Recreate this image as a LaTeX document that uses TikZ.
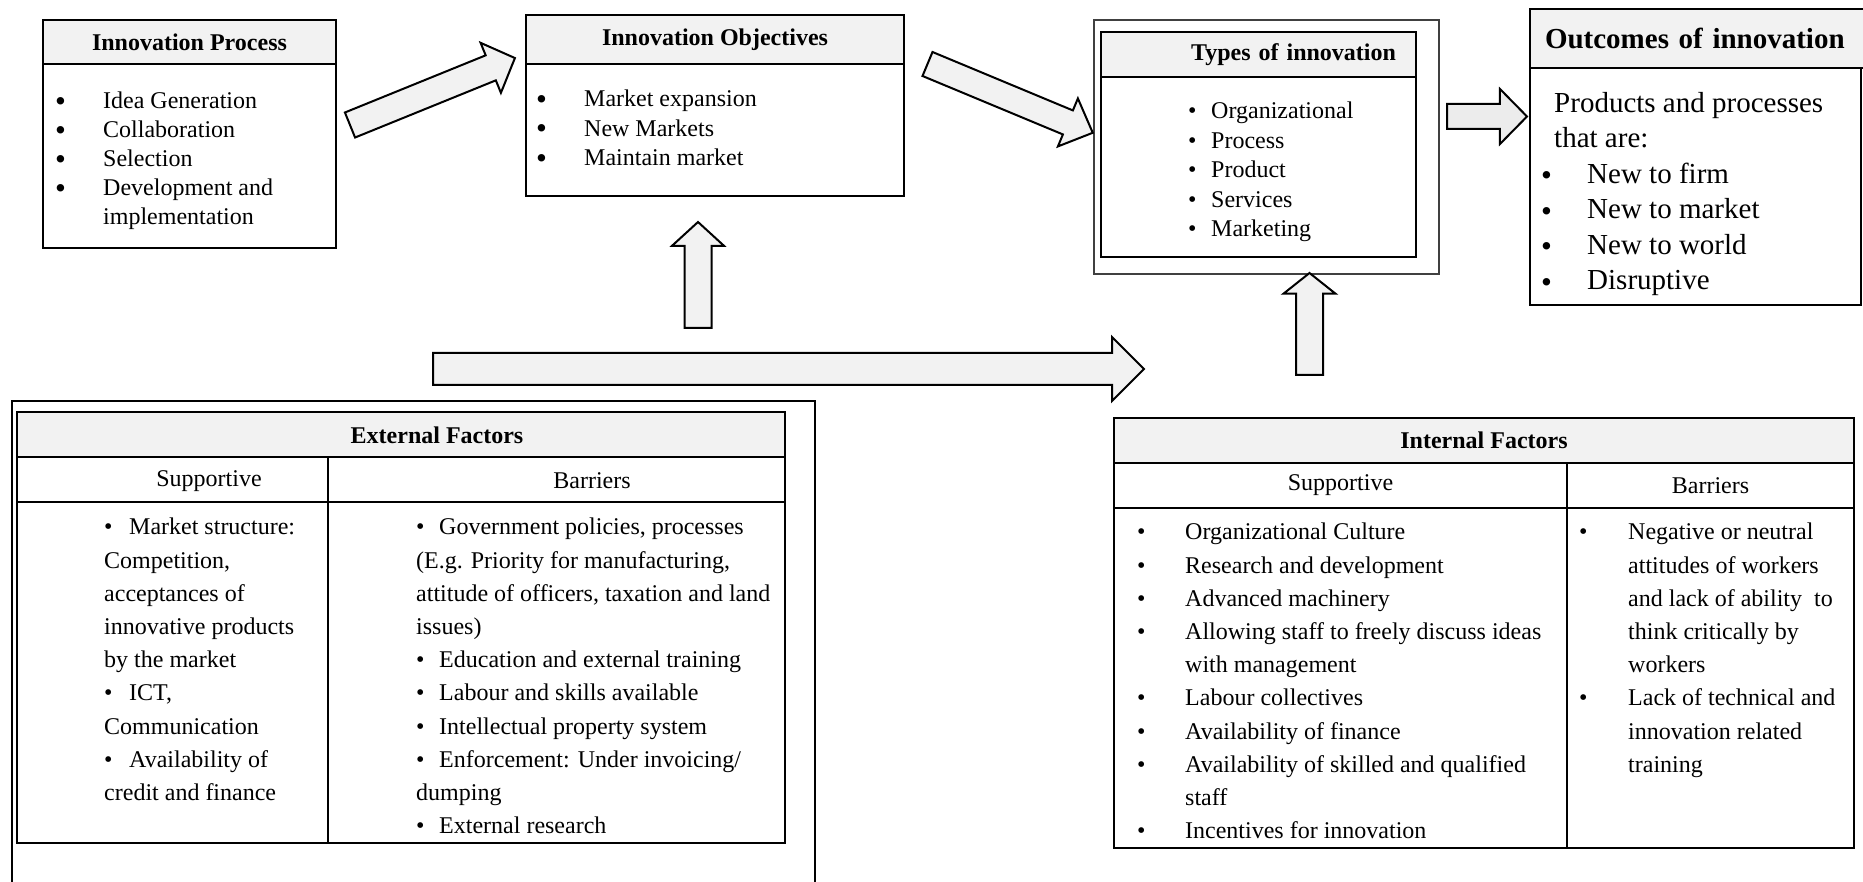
\documentclass[tikz,border=0pt]{standalone}
\usepackage{fontspec}
\setmainfont{Liberation Serif}
\usetikzlibrary{shapes.arrows}

\newcommand{\bl}[1]{\makebox[#1][l]{\textbullet}}
\newcommand{\bigbl}[1]{\makebox[#1][l]{\raisebox{-2.5pt}{\fontsize{31}{29}\selectfont\textbullet}}}
\newcommand{\ind}[1]{\hspace*{#1}}

\begin{document}
\begin{tikzpicture}[x=1pt, y=-1pt,
        box/.style={draw, line width=2pt, inner sep=0pt, outer sep=0pt},
        boxhead/.style={box, fill=gray!10, font=\bfseries\fontsize{24}{29}\selectfont},
        cell/.style={box, font=\fontsize{24}{29}\selectfont},
        itemlist/.style={inner sep=0pt, anchor=north west, align=left, font=\fontsize{24}{29.5}\selectfont},
        tbl/.style={itemlist, font=\fontsize{24}{33.2}\selectfont},
        barrow/.style={single arrow, draw, line width=2pt, fill=gray!10, inner sep=0pt, outer sep=0pt, anchor=tail}
    ]
        \useasboundingbox (0,0) rectangle (1863,882);

        % top row of boxes
        \node[box, minimum width=293pt, minimum height=228pt, anchor=north west] (proc) at (43,20) {};
        \node[boxhead, minimum width=293pt, minimum height=44pt, anchor=north west] (prochead) at (proc.north west) {Innovation Process};
        \node[itemlist, font=\fontsize{24}{29}\selectfont] (proclist) at (55,92) {\bigbl{48pt}Idea Generation\\ \bigbl{48pt}Collaboration\\ \bigbl{48pt}Selection\\ \bigbl{48pt}Development and\\ \ind{48pt}implementation};

        \node[box, minimum width=378pt, minimum height=181pt, anchor=north west] (obj) at (526,15) {};
        \node[boxhead, minimum width=378pt, minimum height=49pt, anchor=north west] (objhead) at (obj.north west) {Innovation Objectives};
        \node[itemlist] (objlist) at (536,90) {\bigbl{48pt}Market expansion\\ \bigbl{48pt}New Markets\\ \bigbl{48pt}Maintain market};

        \node[box, line width=1.5pt, draw=black!75, minimum width=345pt, minimum height=254pt, anchor=north west] (typesframe) at (1094,20) {};
        \node[box, minimum width=315pt, minimum height=225pt, anchor=north west] (types) at (1101,32) {};
        \node[boxhead, inner xsep=20pt, text width=275pt, align=right, minimum height=45pt, anchor=north west] (typeshead) at (types.north west) {Types of innovation};
        \node[itemlist] (typeslist) at (1188,102) {\bl{23pt}Organizational\\ \bl{23pt}Process\\ \bl{23pt}Product\\ \bl{23pt}Services\\ \bl{23pt}Marketing};

        \node[box, minimum width=331pt, minimum height=296pt, anchor=north west] (outc) at (1530,9) {};
        \node[boxhead, font=\bfseries\fontsize{29}{35}\selectfont, inner xsep=15pt, text width=316pt, align=left, minimum height=59pt, anchor=north west] (outchead) at (outc.north west) {Outcomes of innovation};
        \node[itemlist, font=\fontsize{29}{35.5}\selectfont] (outclist) at (1541,92) {\ind{13pt}Products and processes\\ \ind{13pt}that are:\\ \bigbl{46pt}New to firm\\ \bigbl{46pt}New to market\\ \bigbl{46pt}New to world\\ \bigbl{46pt}Disruptive};

        % block arrows
        \node[barrow, minimum height=178pt, inner ysep=12.5pt, single arrow head extend=13.5pt, single arrow tip angle=92, rotate=22.1] (arr1) at (350,125) {};
        \node[barrow, minimum height=179pt, inner ysep=12pt, single arrow head extend=13pt, single arrow tip angle=88, rotate=-22.6] (arr2) at (927.5,64) {};
        \node[barrow, fill=gray!15, minimum height=80pt, inner ysep=11.5pt, single arrow head extend=15pt, single arrow tip angle=91] (arr3) at (1447,116.5) {};
        \node[barrow, minimum height=106pt, inner ysep=12.5pt, single arrow head extend=12.5pt, single arrow tip angle=95, rotate=90] (up1) at (698,328) {};
        \node[barrow, minimum height=102pt, inner ysep=12.5pt, single arrow head extend=12.5pt, single arrow tip angle=103, rotate=90] (up2) at (1309.5,375) {};
        \node[barrow, minimum height=711pt, inner ysep=15pt, single arrow head extend=16pt, single arrow tip angle=90] (long) at (433,369) {};

        % external factors
        \draw[line width=2pt] (12,895) |- (815,401) -- (815,895);
        \node[boxhead, minimum width=768pt, minimum height=45pt, anchor=north west] (exthead) at (17,412) {};
        \node[cell, minimum width=311pt, minimum height=45pt, anchor=north west] (extsup) at (exthead.south west) {};
        \node[cell, minimum width=457pt, minimum height=45pt, anchor=north west] (extbar) at (extsup.north east) {};
        \node[cell, minimum width=311pt, minimum height=341pt, anchor=north west] (extsupcol) at (extsup.south west) {};
        \node[cell, minimum width=457pt, minimum height=341pt, anchor=north west] (extbarcol) at (extbar.south west) {};
        \node[font=\bfseries\fontsize{24}{29}\selectfont] (exttitle) at (437,435) {External Factors};
        \node[font=\fontsize{24}{29}\selectfont] (extsuptxt) at (209,481) {Supportive};
        \node[font=\fontsize{24}{29}\selectfont] (extbartxt) at (592,481) {Barriers};
        \node[tbl] (extsuplist) at (104,518) {\bl{25pt}Market structure:\\ Competition,\\ acceptances of\\ innovative products\\ by the market\\ \bl{25pt}ICT,\\ Communication\\ \bl{25pt}Availability of\\ credit and finance};
        \node[tbl] (extbarlist) at (416,518) {\bl{23pt}Government policies, processes\\ (E.g. Priority for manufacturing,\\ attitude of officers, taxation and land\\ issues)\\ \bl{23pt}Education and external training\\ \bl{23pt}Labour and skills available\\ \bl{23pt}Intellectual property system\\ \bl{23pt}Enforcement: Under invoicing/\\ dumping\\ \bl{23pt}External research};

        % internal factors
        \node[boxhead, minimum width=740pt, minimum height=45pt, anchor=north west] (inthead) at (1114,418) {Internal Factors};
        \node[cell, minimum width=453pt, minimum height=45pt, anchor=north west] (intsup) at (inthead.south west) {Supportive};
        \node[cell, minimum width=287pt, minimum height=45pt, anchor=north west] (intbar) at (intsup.north east) {Barriers};
        \node[cell, minimum width=453pt, minimum height=340pt, anchor=north west] (intsupcol) at (intsup.south west) {};
        \node[cell, minimum width=287pt, minimum height=340pt, anchor=north west] (intbarcol) at (intbar.south west) {};
        \node[tbl] (intsuplist) at (1137,523) {\bl{48pt}Organizational Culture\\ \bl{48pt}Research and development\\ \bl{48pt}Advanced machinery\\ \bl{48pt}Allowing staff to freely discuss ideas\\ \ind{48pt}with management\\ \bl{48pt}Labour collectives\\ \bl{48pt}Availability of finance\\ \bl{48pt}Availability of skilled and qualified\\ \ind{48pt}staff\\ \bl{48pt}Incentives for innovation};
        \node[tbl] (intbarlist) at (1579,523) {\bl{49pt}Negative or neutral\\ \ind{49pt}attitudes of workers\\ \ind{49pt}and lack of ability\ \ to\\ \ind{49pt}think critically by\\ \ind{49pt}workers\\ \bl{49pt}Lack of technical and\\ \ind{49pt}innovation related\\ \ind{49pt}training};
    \end{tikzpicture}
\end{document}
